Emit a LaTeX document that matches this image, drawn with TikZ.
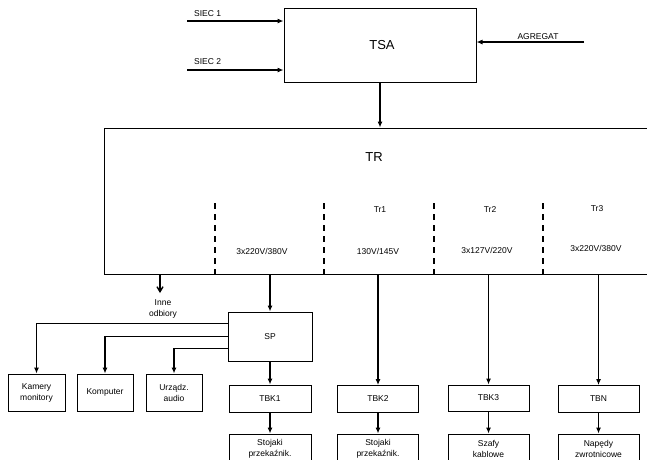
\documentclass[tikz,border=0pt]{standalone}
\usepackage{fontspec}
\setmainfont{Liberation Sans}
\usetikzlibrary{arrows.meta}
\begin{document}
\begin{tikzpicture}[x=1pt,y=-1pt,
  box/.style={draw, line width=1pt, rectangle, inner sep=0pt, align=center, font=\fontsize{8.5}{11}\selectfont},
  arr/.style={line width=1.1pt, -{Latex[length=6pt,width=5pt]}},
  barb/.style={line width=1.1pt, -{Straight Barb[length=5pt,width=6pt,line width=1.4pt]}},
  lbl/.style={inner sep=0pt, font=\fontsize{8.5}{11}\selectfont, align=center},
  big/.style={inner sep=0pt, font=\fontsize{13}{15}\selectfont},
  dsh/.style={line width=1.4pt, dash pattern=on 6pt off 5pt}]
\useasboundingbox (0,0) rectangle (647,459);
\clip (0,0) rectangle (647,459);
\fill[white] (0,0) rectangle (647,459);

% TSA block
\node[box, minimum width=192pt, minimum height=74pt] (TSA) at (380,45) {};
\node[big] (TSAl) at (382,45) {TSA};
\coordinate (s1) at (187,21);
\coordinate (s2) at (187,70);
\coordinate (ag) at (584,42);
\draw[arr] (s1) -- (s1 -| TSA.west);
\draw[arr] (s2) -- (s2 -| TSA.west);
\draw[arr] (ag) -- (ag -| TSA.east);
\node[lbl, anchor=west] (s1l) at (194,14) {SIEC 1};
\node[lbl, anchor=west] (s2l) at (194,62) {SIEC 2};
\node[lbl] (agl) at (538,37) {AGREGAT};

% TR block (open on the right)
\node[box, minimum width=600pt, minimum height=146pt] (TR) at (404,201) {};
\node[big] (TRl) at (374,157) {TR};
\draw[arr] (TSA.south) -- (TSA.south |- TR.north);

\draw[dsh] (215,203) -- (215,274);
\draw[dsh] (324,203) -- (324,274);
\draw[dsh] (434,203) -- (434,274);
\draw[dsh] (543,203) -- (543,274);

\node[lbl] (tr1) at (380,210) {Tr1};
\node[lbl] (tr2) at (490,210) {Tr2};
\node[lbl] (tr3) at (597,209) {Tr3};
\node[lbl] (v0) at (262,251) {3x220V/380V};
\node[lbl] (v1) at (378,251) {130V/145V};
\node[lbl] (v2) at (487,250) {3x127V/220V};
\node[lbl] (v3) at (596,248) {3x220V/380V};

% Inne odbiory
\coordinate (inne) at (160,293);
\draw[barb] (TR.south -| inne) -- (inne);
\node[lbl] (innel) at (163,309) {Inne\\odbiory};

% SP and its loads
\node[box, minimum width=84pt, minimum height=49pt] (SP) at (270,336.5) {SP};
\draw[arr] (TR.south -| SP.north) -- (SP.north);

\node[box, minimum width=57pt, minimum height=37pt] (KAM) at (36.5,392.5) {Kamery\\monitory};
\node[box, minimum width=56pt, minimum height=37pt] (KOM) at (105,392.5) {Komputer};
\node[box, minimum width=56pt, minimum height=37pt] (AUD) at (174,392.5) {Urządz.\\audio};
\draw[arr] (SP.north west) ++(0,12) -| (KAM.north);
\draw[arr] (SP.north west) ++(0,25) -| (KOM.north);
\draw[arr] (SP.north west) ++(0,37) -| (AUD.north);

% TBK row
\node[box, minimum width=82pt, minimum height=27pt] (TBK1) at (270,398.5) {TBK1};
\node[box, minimum width=81pt, minimum height=27pt] (TBK2) at (378,399) {TBK2};
\node[box, minimum width=81pt, minimum height=26pt] (TBK3) at (488.5,398) {TBK3};
\node[box, minimum width=81pt, minimum height=27pt] (TBN) at (598.5,399) {TBN};
\draw[arr] (SP.south) -- (TBK1.north);
\draw[arr] (TR.south -| TBK2.north) -- (TBK2.north);
\draw[arr] (TR.south -| TBK3.north) -- (TBK3.north);
\draw[arr] (TR.south -| TBN.north) -- (TBN.north);

% bottom row (cut by the picture edge)
\node[box, minimum width=82pt, minimum height=30pt] (ST1) at (270,449) {Stojaki\\przekaźnik.};
\node[box, minimum width=81pt, minimum height=30pt] (ST2) at (378,449) {Stojaki\\przekaźnik.};
\node[box, minimum width=81pt, minimum height=30pt] (SZ) at (488.5,449) {Szafy\\kablowe};
\node[box, minimum width=81pt, minimum height=30pt] (NAP) at (598.5,449) {Napędy\\zwrotnicowe};
\draw[arr] (TBK1.south) -- (ST1.north);
\draw[arr] (TBK2.south) -- (ST2.north);
\draw[arr] (TBK3.south) -- (SZ.north);
\draw[arr] (TBN.south) -- (NAP.north);
\end{tikzpicture}
\end{document}
